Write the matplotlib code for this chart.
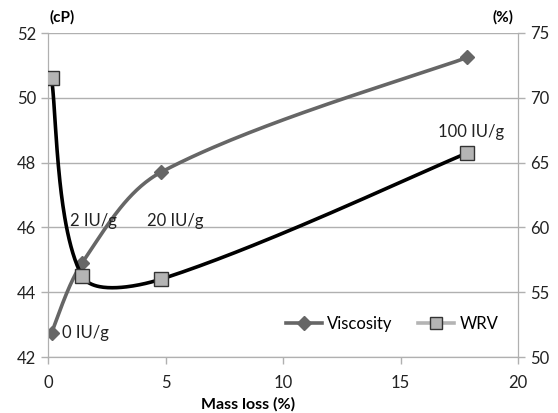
import numpy as np
import matplotlib
matplotlib.use("Agg")
import matplotlib.pyplot as plt
from matplotlib.lines import Line2D

plt.rcParams['font.family'] = ['Lato', 'DejaVu Sans']

mass_loss = [0.15, 1.45, 4.8, 17.85]
viscosity = [42.75, 44.9, 47.7, 51.25]
wrv = [71.5, 56.25, 56.0, 65.75]
labels = ["0 IU/g", "2 IU/g", "20 IU/g", "100 IU/g"]

def smooth(axis, x, y, n=60):
    # Excel-like smoothing: cubic Bezier, tangents scaled by chord lengths (in display space)
    P = axis.transData.transform(np.column_stack([x, y]))
    out = [P[0]]
    for i in range(len(P) - 1):
        p0 = P[i - 1] if i > 0 else P[i]
        p1 = P[i]; p2 = P[i + 1]
        p3 = P[i + 2] if i + 2 < len(P) else P[i + 1]
        d01 = np.linalg.norm(p1 - p0); d12 = np.linalg.norm(p2 - p1); d23 = np.linalg.norm(p3 - p2)
        f1 = d12 / (d01 + d12) / 3.0 if d01 > 0 else 1 / 6.0
        f2 = d12 / (d12 + d23) / 3.0 if d23 > 0 else 1 / 6.0
        c1 = p1 + (p2 - p0) * f1
        c2 = p2 - (p3 - p1) * f2
        t = np.linspace(0, 1, n)[1:, None]
        seg = (1 - t) ** 3 * p1 + 3 * (1 - t) ** 2 * t * c1 + 3 * (1 - t) * t ** 2 * c2 + t ** 3 * p2
        out.extend(seg)
    out = axis.transData.inverted().transform(np.array(out))
    return out[:, 0], out[:, 1]

fig = plt.figure(figsize=(5.58, 4.13), dpi=100)
ax = fig.add_axes([48/558, 1 - 357/413, 470/558, 324/413])
ax2 = ax.twinx()

grid_c = '#b0b0b0'
ax.set_xlim(0, 20)
ax.set_ylim(42, 52)
ax2.set_ylim(50, 75)
ax.set_yticks(range(42, 53, 2))
ax2.set_yticks(range(50, 76, 5))
ax.set_xticks(range(0, 21, 5))
ax.grid(axis='y', color=grid_c, lw=1)
for a in (ax, ax2):
    for s in a.spines.values():
        s.set_color(grid_c)
    a.spines['top'].set_visible(False)
    a.tick_params(colors=grid_c, labelcolor='#222222', labelsize=12, length=5, width=1)
ax.tick_params(axis='x', pad=8)

vis_c = '#666666'
sx, sy = smooth(ax, mass_loss, viscosity)
ax.plot(sx, sy, color=vis_c, lw=2.6, zorder=3)
ax.plot(mass_loss, viscosity, ls='none', marker='D', ms=7, color=vis_c, zorder=4)

wx, wy = smooth(ax2, mass_loss, wrv)
ax2.plot(wx, wy, color='black', lw=2.6, zorder=3)
ax2.plot(mass_loss, wrv, ls='none', marker='s', ms=10, mfc='#b4b4b4', mec='#333333', mew=1, zorder=4)

ax.text(0.6, 42.75, labels[0], fontsize=12, va='center', ha='left', color='#222222')
ax.text(0.95, 46.2, labels[1], fontsize=12, va='center', ha='left', color='#222222')
ax.text(4.2, 46.2, labels[2], fontsize=12, va='center', ha='left', color='#222222')
ax.text(16.6, 48.95, labels[3], fontsize=12, va='center', ha='left', color='#222222')

ax.set_xlabel('Mass loss (%)', fontsize=11.5, fontweight='bold', labelpad=0)
ax.xaxis.set_label_coords(200/470, -0.125)
fig.text(62/558, 1 - 17/413, '(cP)', fontsize=11, fontweight='bold', ha='center', va='center')
fig.text(518/558 - 15/558, 1 - 17/413, '(%)', fontsize=11, fontweight='bold', ha='center', va='center')

handles = [Line2D([], [], color=vis_c, lw=2.6, marker='D', ms=7),
           Line2D([], [], color='#b4b4b4', lw=2.6, marker='s', ms=8, mfc='#b4b4b4', mec='#333333')]
ax.legend(handles, ['Viscosity', 'WRV'], loc='lower right', bbox_to_anchor=(0.99, 0.03),
          ncol=2, frameon=False, fontsize=12, handlelength=2.2, columnspacing=1.5, handletextpad=0.3)

fig.savefig('out.png', dpi=100)
